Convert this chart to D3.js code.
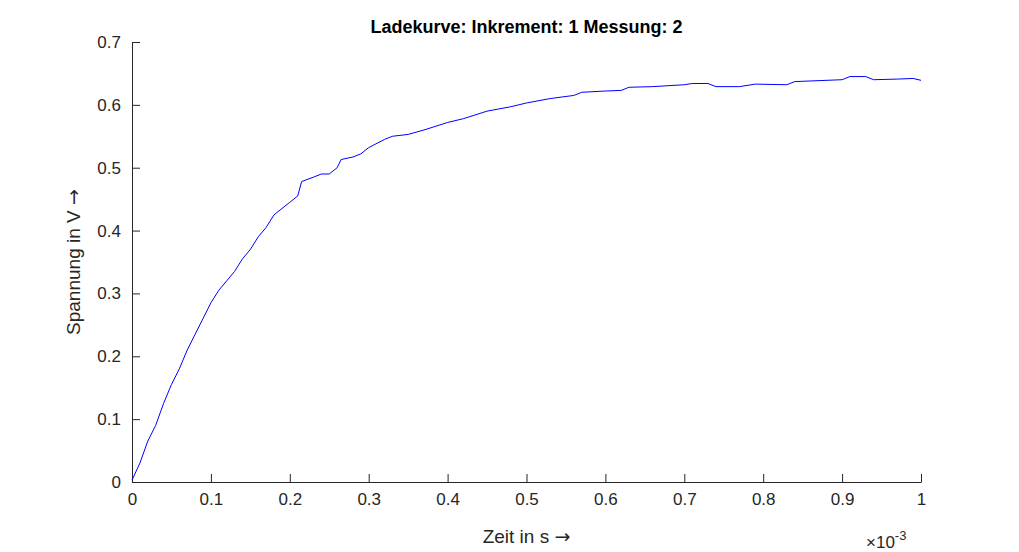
<!DOCTYPE html>
<html><head><meta charset="utf-8">
<script src="https://cdn.jsdelivr.net/npm/d3@7"></script>
<style>body{margin:0;background:#fff}text{font-family:"Liberation Sans",Arial,sans-serif}</style>
</head><body><svg id="c" width="1019" height="552"></svg>
<script>
const title = "Ladekurve: Inkrement: 1 Messung: 2";
const xLabel = "Zeit in s ";
const yLabel = "Spannung in V ";
const arrow = "\u2192";
const xTicks = [0,0.1,0.2,0.3,0.4,0.5,0.6,0.7,0.8,0.9,1];
const yTicks = [0,0.1,0.2,0.3,0.4,0.5,0.6,0.7];
const timeMs = [0,0.01,0.02,0.03,0.04,0.05,0.06,0.07,0.08,0.09,0.10,0.11,0.12,0.13,0.14,0.15,0.16,0.17,0.18,0.19,0.20,0.21,0.215,0.23,0.24,0.25,0.26,0.265,0.28,0.29,0.30,0.32,0.33,0.35,0.37,0.40,0.42,0.45,0.48,0.50,0.53,0.56,0.57,0.60,0.62,0.63,0.66,0.70,0.71,0.73,0.74,0.77,0.79,0.83,0.84,0.90,0.91,0.93,0.94,0.97,0.99,1.0];
const voltage = [0.003,0.03,0.065,0.09,0.125,0.155,0.18,0.21,0.235,0.26,0.285,0.305,0.32,0.335,0.355,0.37,0.39,0.405,0.425,0.435,0.445,0.455,0.478,0.485,0.49,0.49,0.50,0.513,0.517,0.522,0.532,0.545,0.55,0.553,0.56,0.572,0.578,0.59,0.597,0.603,0.61,0.615,0.62,0.622,0.623,0.628,0.629,0.632,0.634,0.634,0.629,0.629,0.633,0.632,0.637,0.640,0.645,0.645,0.640,0.641,0.642,0.639];
const svg = d3.select("#c");
const L=132,R=921,T=42,B=482;
const x = d3.scaleLinear().domain([0,1]).range([L,R]);
const y = d3.scaleLinear().domain([0,0.7]).range([B,T]);
const ax = svg.append("g").attr("transform",`translate(0,${B})`)
  .call(d3.axisBottom(x).tickValues(xTicks).tickFormat(d=>d).tickSizeInner(-8).tickSizeOuter(0).tickPadding(11));
const ay = svg.append("g").attr("transform",`translate(${L},0)`)
  .call(d3.axisLeft(y).tickValues(yTicks).tickFormat(d=>d).tickSizeInner(-8).tickSizeOuter(0).tickPadding(11));
[ax,ay].forEach(a=>{a.selectAll("path,line").attr("stroke","#262626");a.selectAll("text").attr("fill","#262626").style("font-size","17px");});
svg.append("path").datum(timeMs.map((t,i)=>[t,voltage[i]]))
  .attr("fill","none").attr("stroke","#0000ff").attr("stroke-width",1)
  .attr("d",d3.line().x(d=>x(d[0])).y(d=>y(d[1])));
svg.append("text").attr("x",(L+R)/2).attr("y",33).attr("text-anchor","middle")
  .style("font-size","18px").style("font-weight","bold").attr("fill","#000").text(title);
const xl = svg.append("text").attr("x",(L+R)/2).attr("y",543).attr("text-anchor","middle")
  .style("font-size","19px").attr("fill","#262626").text(xLabel);
xl.append("tspan").style("font-family","DejaVu Sans").text(arrow);
const yl = svg.append("text").attr("transform",`translate(80,${(T+B)/2}) rotate(-90)`).attr("text-anchor","middle")
  .style("font-size","19px").attr("fill","#262626").text(yLabel);
yl.append("tspan").style("font-family","DejaVu Sans").text(arrow);
const ex = svg.append("text").attr("x",866).attr("y",548).style("font-size","17px").attr("fill","#262626");
ex.append("tspan").text("\u00d710");
ex.append("tspan").attr("dy",-8).style("font-size","13px").text("-3");
</script></body></html>
